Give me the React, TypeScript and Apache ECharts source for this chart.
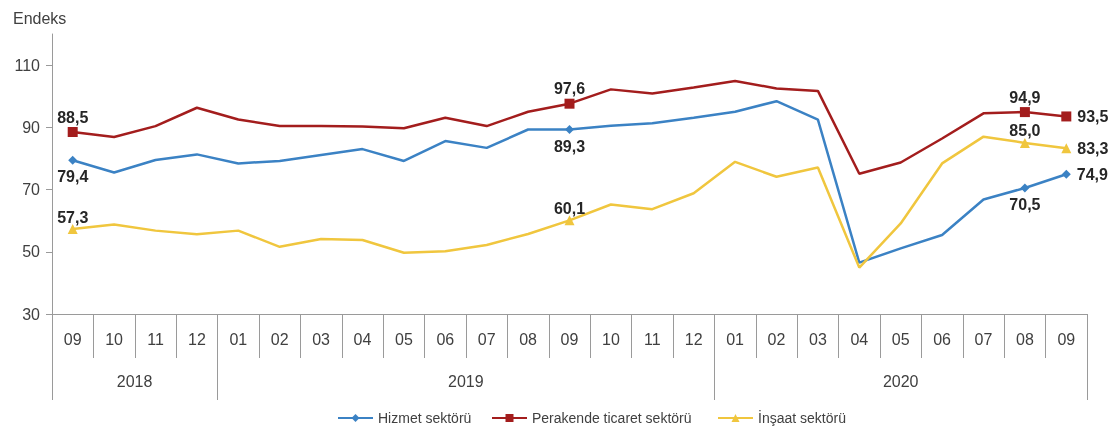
import React, { useEffect, useRef } from "react";
import * as echarts from "echarts";

const months = ["09", "10", "11", "12", "01", "02", "03", "04", "05", "06", "07", "08", "09", "10", "11", "12", "01", "02", "03", "04", "05", "06", "07", "08", "09"];
const years = ["2018", "2018", "2018", "2018", "2019", "2019", "2019", "2019", "2019", "2019", "2019", "2019", "2019", "2019", "2019", "2019", "2020", "2020", "2020", "2020", "2020", "2020", "2020", "2020", "2020"];

const hizmet = [79.4, 75.5, 79.5, 81.3, 78.4, 79.2, 81.1, 83.0, 79.2, 85.6, 83.4, 89.3, 89.3, 90.5, 91.3, 93.1, 95.0, 98.4, 92.5, 46.5, 51.1, 55.4, 66.8, 70.5, 74.9];
const perakende = [88.5, 86.9, 90.4, 96.3, 92.5, 90.4, 90.4, 90.3, 89.7, 93.1, 90.4, 95.0, 97.6, 102.2, 100.9, 102.8, 104.9, 102.5, 101.7, 75.1, 78.7, 86.4, 94.5, 94.9, 93.5];
const insaat = [57.3, 58.8, 56.8, 55.6, 56.8, 51.6, 54.1, 53.8, 49.7, 50.2, 52.2, 55.7, 60.1, 65.2, 63.7, 68.8, 78.9, 74.1, 77.1, 44.9, 59.1, 78.4, 87.0, 85.0, 83.3];

const seriesNames = ["Hizmet sektörü", "Perakende ticaret sektörü", "İnşaat sektörü"];
const labeledIdx = [0, 12, 23, 24];
const yTicks = [30, 50, 70, 90, 110];
const yearBoundaryIdx = [0, 4, 16];
const yearLabelIdx = [1, 9, 20];

const FONT = "'Liberation Sans', Arial, sans-serif";
const fmt = (v: number) => v.toFixed(1).replace(".", ",");

function buildData(values: number[], positions: string[], dist: number) {
  return values.map((v, i) => {
    const k = labeledIdx.indexOf(i);
    if (k < 0) return { value: v, symbol: "none" };
    return {
      value: v,
      label: {
        show: true,
        position: positions[k],
        distance: positions[k] === "right" ? 6 : dist,
        formatter: (p: any) => fmt(p.value),
        fontFamily: FONT,
        fontSize: 16,
        fontWeight: "bold",
        color: "#262626",
      },
    };
  });
}

export default function App() {
  const ref = useRef<HTMLDivElement>(null);
  useEffect(() => {
    if (!ref.current) return;
    const chart = echarts.init(ref.current, undefined, { renderer: "svg" });
    const axisColor = "#9a9a9a";
    const textColor = "#404040";
    const legendLefts = [332, 486, 712];
    chart.setOption({
      animation: false,
      textStyle: { fontFamily: FONT },
      title: {
        text: "Endeks",
        left: 8,
        top: 5,
        textStyle: { fontFamily: FONT, fontSize: 16, fontWeight: "normal", color: textColor },
      },
      grid: { left: 52, right: 31, top: 34, bottom: 112, containLabel: false },
      legend: seriesNames.map((n, i) => ({
        left: legendLefts[i],
        top: 406,
        itemWidth: 35,
        itemHeight: 10,
        textStyle: { fontFamily: FONT, fontSize: 14, color: textColor },
        data: [n],
      })),
      xAxis: [
        {
          type: "category",
          data: months,
          boundaryGap: true,
          axisLine: { show: true, lineStyle: { color: axisColor, width: 1 } },
          axisTick: { show: true, interval: 0, length: 44, lineStyle: { color: axisColor } },
          axisLabel: { interval: 0, margin: 17, fontSize: 16, color: textColor, fontFamily: FONT },
          splitLine: { show: false },
        },
        {
          type: "category",
          data: years,
          position: "bottom",
          boundaryGap: true,
          axisLine: { show: false },
          axisTick: {
            show: true,
            interval: (i: number) => yearBoundaryIdx.includes(i),
            length: 86,
            lineStyle: { color: axisColor },
          },
          axisLabel: {
            interval: (i: number) => yearLabelIdx.includes(i),
            margin: 59,
            fontSize: 16,
            color: textColor,
            fontFamily: FONT,
            formatter: (v: string, i: number) => (i === 20 ? "{c|" + v + "}" : "{s|" + v + "}"),
            rich: {
              s: { fontSize: 16, color: textColor, fontFamily: FONT, padding: [0, 0, 0, 41] },
              c: { fontSize: 16, color: textColor, fontFamily: FONT },
            },
          },
          splitLine: { show: false },
        },
      ],
      yAxis: {
        type: "value",
        min: 30,
        max: 120,
        axisLine: { show: true, lineStyle: { color: axisColor } },
        axisTick: { show: true, length: 6, customValues: yTicks, lineStyle: { color: axisColor } },
        axisLabel: { customValues: yTicks, margin: 12, fontSize: 16, color: textColor, fontFamily: FONT },
        splitLine: { show: false },
      },
      series: [
        {
          name: seriesNames[0],
          type: "line",
          xAxisIndex: 0,
          symbol: "diamond",
          symbolSize: 9,
          color: "#3b82c4",
          lineStyle: { width: 2.5, color: "#3b82c4" },
          itemStyle: { color: "#3b82c4" },
          data: buildData(hizmet, ["bottom", "bottom", "bottom", "right"], 4),
        },
        {
          name: seriesNames[1],
          type: "line",
          xAxisIndex: 0,
          symbol: "rect",
          symbolSize: 10,
          color: "#a31d1d",
          lineStyle: { width: 2.5, color: "#a31d1d" },
          itemStyle: { color: "#a31d1d" },
          data: buildData(perakende, ["top", "top", "top", "right"], 2),
        },
        {
          name: seriesNames[2],
          type: "line",
          xAxisIndex: 0,
          symbol: "triangle",
          symbolSize: 10,
          color: "#f0c63e",
          lineStyle: { width: 2.5, color: "#f0c63e" },
          itemStyle: { color: "#f0c63e" },
          data: buildData(insaat, ["top", "top", "top", "right"], -1),
        },
      ],
    });
    return () => chart.dispose();
  }, []);
  return <div ref={ref} style={{ position: "fixed", left: 0, top: 0, width: 1118, height: 426 }} />;
}
